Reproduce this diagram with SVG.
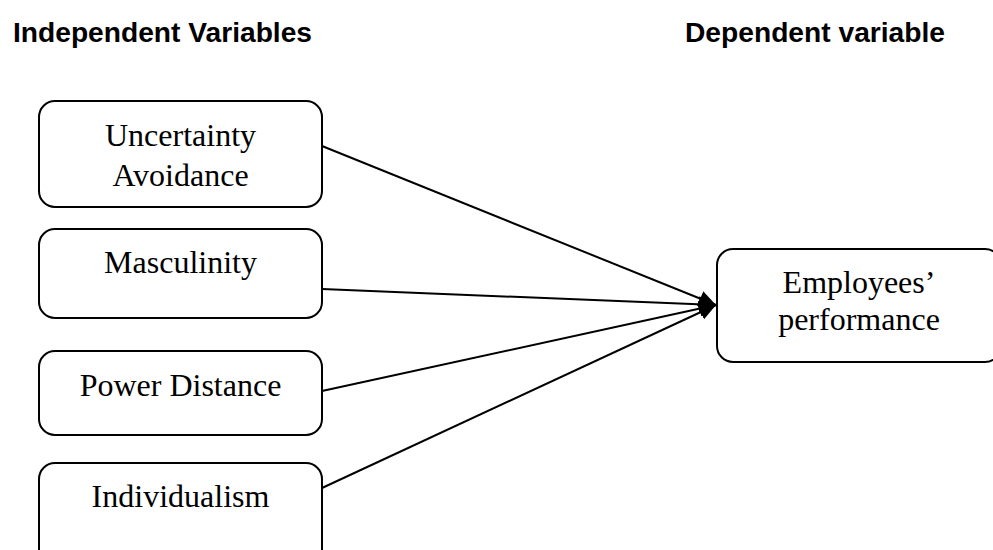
<svg xmlns="http://www.w3.org/2000/svg" width="993" height="550" viewBox="0 0 993 550">
<style>
.box{fill:#fff;stroke:#000;stroke-width:2}
.t{font-family:"Liberation Serif","Times New Roman",serif;font-size:32px;fill:#000;text-anchor:middle}
.h{font-family:"Liberation Sans",Arial,sans-serif;font-size:28px;font-weight:bold;fill:#000}
.c{stroke:#000;stroke-width:2;fill:none;marker-end:url(#ah)}
</style>
<defs>
<marker id="ah" markerUnits="userSpaceOnUse" markerWidth="18" markerHeight="16" refX="17" refY="8" orient="auto">
<path d="M0,0 L17,8 L0,16 Z" fill="#000"/>
</marker>
</defs>
<rect width="993" height="550" fill="#fff"/>
<text class="h" x="13" y="42" textLength="299" lengthAdjust="spacingAndGlyphs">Independent Variables</text>
<text class="h" x="685" y="42" textLength="260" lengthAdjust="spacingAndGlyphs">Dependent variable</text>
<g id="connectors">
<line class="c" x1="322" y1="146" x2="716" y2="305"/>
<line class="c" x1="322" y1="289" x2="716" y2="305"/>
<line class="c" x1="322" y1="391" x2="716" y2="305"/>
<line class="c" x1="322" y1="488" x2="716" y2="305"/>
</g>
<g id="uncertainty">
<rect class="box" x="39" y="101" width="283" height="106" rx="16"/>
<text class="t" x="180.5" y="146">Uncertainty</text>
<text class="t" x="180.5" y="186">Avoidance</text>
</g>
<g id="masculinity">
<rect class="box" x="39" y="229" width="283" height="89" rx="16"/>
<text class="t" x="180.5" y="273">Masculinity</text>
</g>
<g id="power">
<rect class="box" x="39" y="351" width="283" height="84" rx="16"/>
<text class="t" x="180.5" y="396">Power Distance</text>
</g>
<g id="individualism">
<rect class="box" x="39" y="463" width="283" height="110" rx="16"/>
<text class="t" x="180.5" y="507">Individualism</text>
</g>
<g id="performance">
<rect class="box" x="717" y="249" width="284" height="113" rx="16"/>
<text class="t" x="859" y="293">Employees’</text>
<text class="t" x="859" y="330">performance</text>
</g>
</svg>
